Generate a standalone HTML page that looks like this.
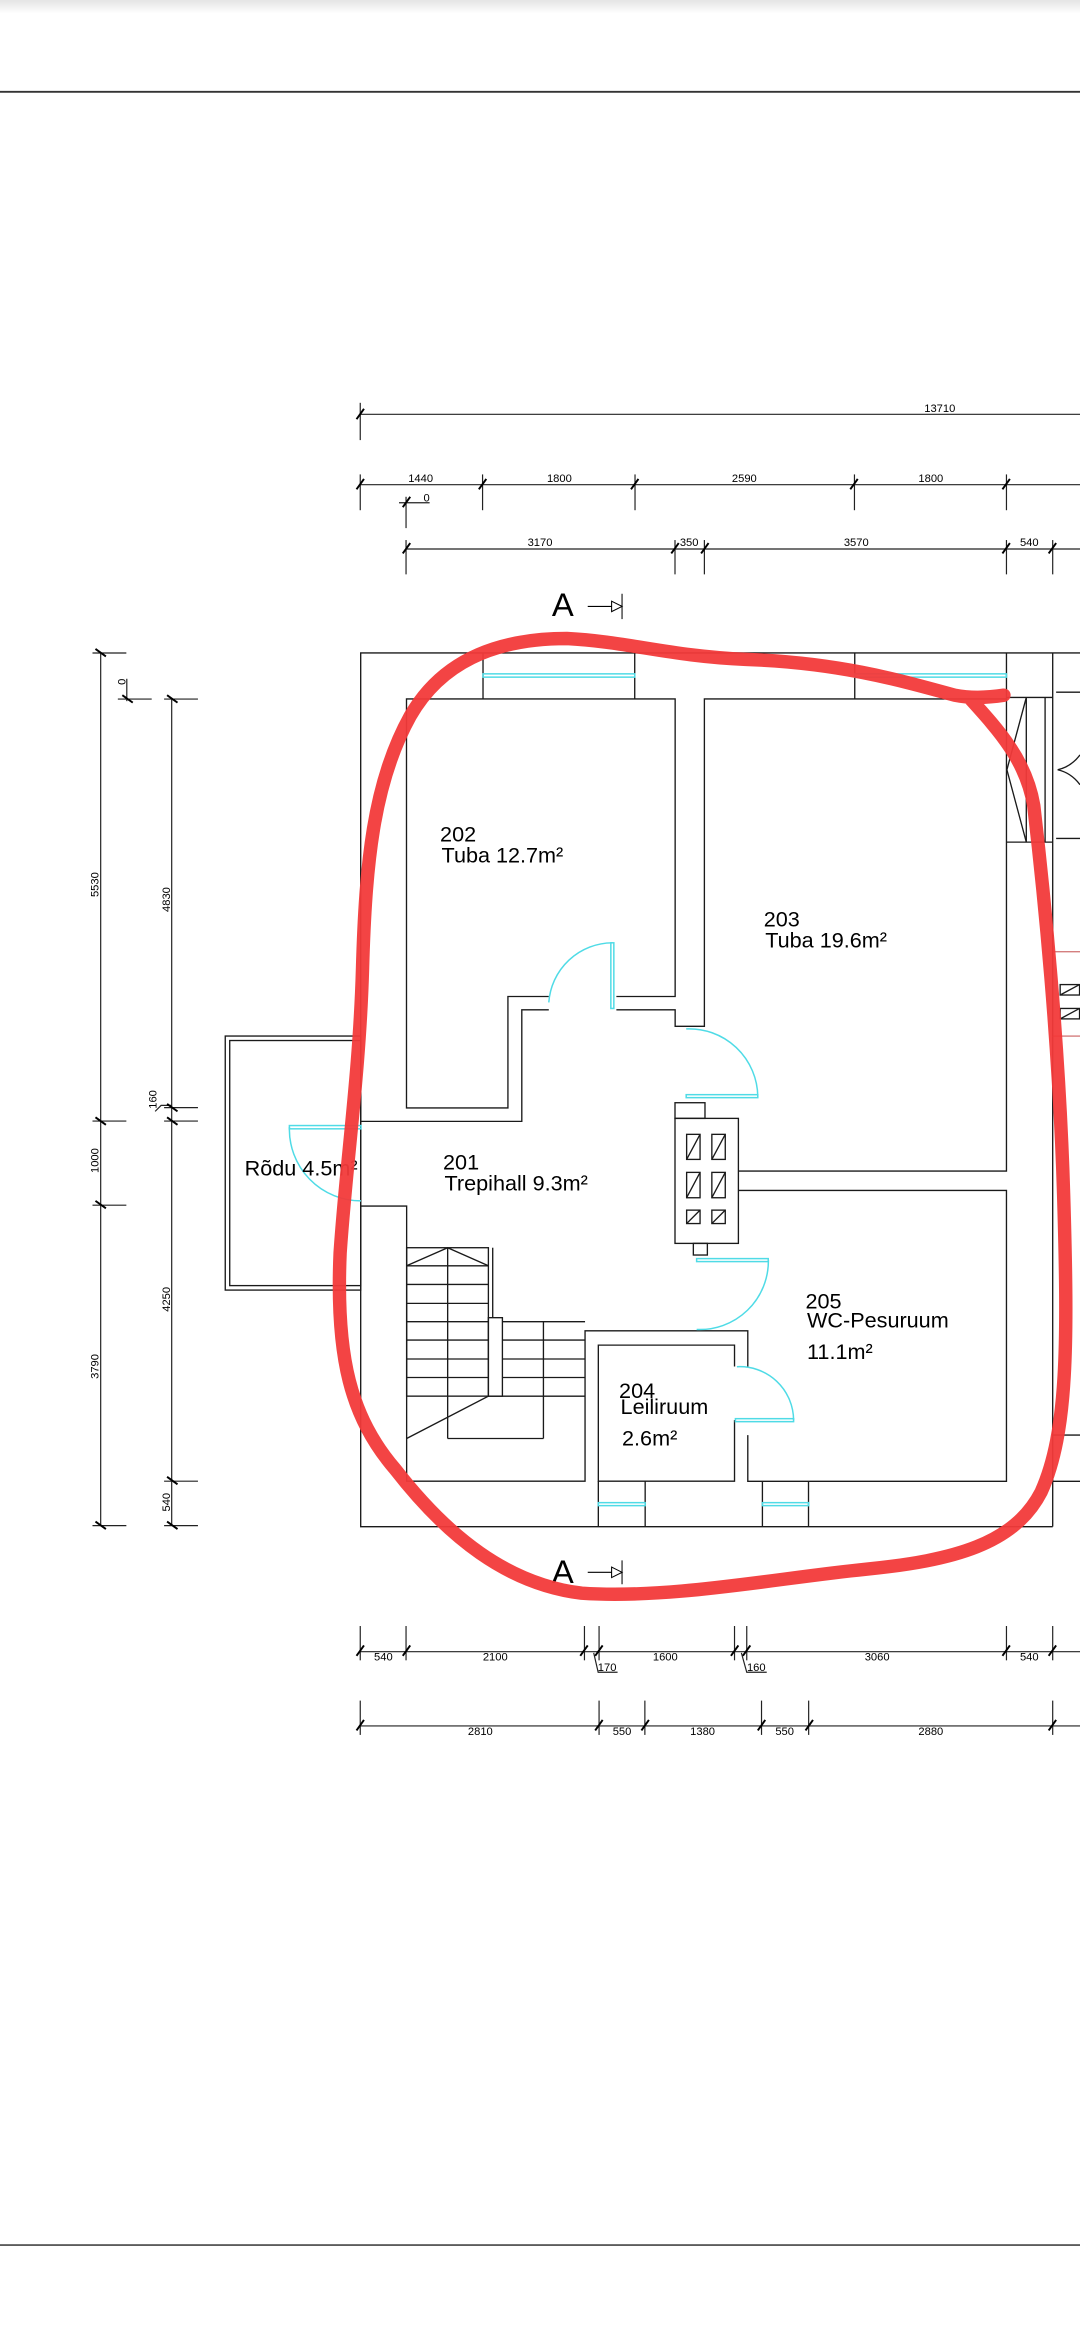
<!DOCTYPE html>
<html><head><meta charset="utf-8"><style>
html,body{margin:0;padding:0;background:#fff;width:1080px;height:2340px;overflow:hidden}
svg{display:block}
text{font-family:"Liberation Sans",Arial,sans-serif;fill:#000}
.d{font-size:7.5px;fill:#222}
.r{font-size:14.5px}
</style></head><body>
<svg width="1080" height="2340" viewBox="0 0 724 1568.6" xmlns="http://www.w3.org/2000/svg">
<defs><linearGradient id="g" x1="0" y1="0" x2="0" y2="1"><stop offset="0" stop-color="#e4e4e4"/><stop offset="1" stop-color="#fff"/></linearGradient></defs>
<rect x="0" y="0" width="724" height="9" fill="url(#g)"/>
<line x1="0" y1="61.5" x2="724" y2="61.5" stroke="#333" stroke-width="1.3"/>
<line x1="0" y1="1505" x2="724" y2="1505" stroke="#444" stroke-width="1.1"/>

<g stroke="#222" stroke-width="0.8" fill="none">
<line x1="241.5" y1="277.7" x2="724" y2="277.7"/><line x1="241.5" y1="270" x2="241.5" y2="295"/>
<line x1="241.5" y1="324.9" x2="724" y2="324.9"/>
<line x1="241.5" y1="318" x2="241.5" y2="342"/><line x1="323.5" y1="318" x2="323.5" y2="342"/><line x1="425.7" y1="318" x2="425.7" y2="342"/><line x1="572.8" y1="318" x2="572.8" y2="342"/><line x1="674.7" y1="318" x2="674.7" y2="342"/>
<line x1="267.5" y1="337" x2="288" y2="337"/><line x1="272.2" y1="333" x2="272.2" y2="354"/>
<line x1="272.2" y1="368" x2="724" y2="368"/>
<line x1="272.2" y1="362" x2="272.2" y2="385"/><line x1="452.5" y1="362" x2="452.5" y2="385"/><line x1="472.2" y1="362" x2="472.2" y2="385"/><line x1="674.7" y1="362" x2="674.7" y2="385"/><line x1="705.7" y1="362" x2="705.7" y2="385"/>
<line x1="241.5" y1="1107.2" x2="724" y2="1107.2"/>
<g><line x1="241.5" y1="1090" x2="241.5" y2="1113"/><line x1="272.2" y1="1090" x2="272.2" y2="1113"/><line x1="391.8" y1="1090" x2="391.8" y2="1113"/><line x1="401.6" y1="1090" x2="401.6" y2="1113"/><line x1="492.4" y1="1090" x2="492.4" y2="1113"/><line x1="500.6" y1="1090" x2="500.6" y2="1113"/><line x1="674.7" y1="1090" x2="674.7" y2="1113"/><line x1="705.7" y1="1090" x2="705.7" y2="1113"/></g>
<polyline points="398,1108 401,1121 414,1121"/><polyline points="497,1108 500.6,1121 514,1121"/>
<line x1="241.5" y1="1157" x2="724" y2="1157"/>
<g><line x1="241.5" y1="1140" x2="241.5" y2="1163"/><line x1="401.6" y1="1140" x2="401.6" y2="1163"/><line x1="432.3" y1="1140" x2="432.3" y2="1163"/><line x1="510.5" y1="1140" x2="510.5" y2="1163"/><line x1="542.1" y1="1140" x2="542.1" y2="1163"/><line x1="705.7" y1="1140" x2="705.7" y2="1163"/></g>
<line x1="67.5" y1="437.7" x2="67.5" y2="1022.7"/>
<line x1="62" y1="437.7" x2="84.7" y2="437.7"/><line x1="62" y1="751.5" x2="84.7" y2="751.5"/><line x1="62" y1="807.9" x2="84.7" y2="807.9"/><line x1="62" y1="1022.7" x2="84.7" y2="1022.7"/>
<line x1="115.1" y1="468.6" x2="115.1" y2="1022.7"/>
<line x1="110" y1="468.6" x2="132.7" y2="468.6"/><line x1="110" y1="742.5" x2="132.7" y2="742.5"/><line x1="110" y1="751.5" x2="132.7" y2="751.5"/><line x1="110" y1="992.9" x2="132.7" y2="992.9"/><line x1="110" y1="1022.7" x2="132.7" y2="1022.7"/>
<line x1="79" y1="468.6" x2="101.7" y2="468.6"/><line x1="85" y1="455" x2="85" y2="470"/>
<polyline points="104,745 108,741 115,741"/>
</g>
<g stroke="#000" stroke-width="1.3">
<path d="M239,281 l5,-7 M239,328 l5,-7 M321,328 l5,-7 M423,328 l5,-7 M570,328 l5,-7 M672,328 l5,-7 M270,340 l5,-7 M270,371 l5,-7 M450,371 l5,-7 M470,371 l5,-7 M672,371 l5,-7 M703,371 l5,-7"/>
<path d="M239,1110 l5,-7 M270,1110 l5,-7 M389,1110 l5,-7 M399,1110 l5,-7 M490,1110 l5,-7 M498,1110 l5,-7 M672,1110 l5,-7 M703,1110 l5,-7 M239,1160 l5,-7 M399,1160 l5,-7 M430,1160 l5,-7 M508,1160 l5,-7 M540,1160 l5,-7 M703,1160 l5,-7"/>
<path d="M64,435 l7,5 M64,749 l7,5 M64,805 l7,5 M64,1020 l7,5 M112,466 l7,5 M112,740 l7,5 M112,749 l7,5 M112,990 l7,5 M112,1020 l7,5 M82,466 l7,5"/>
</g>
<g class="d">
<text x="630" y="276" text-anchor="middle">13710</text>
<text x="282" y="323" text-anchor="middle">1440</text><text x="375" y="323" text-anchor="middle">1800</text><text x="499" y="323" text-anchor="middle">2590</text><text x="624" y="323" text-anchor="middle">1800</text>
<text x="286" y="336" text-anchor="middle">0</text>
<text x="362" y="366" text-anchor="middle">3170</text><text x="462" y="366" text-anchor="middle">350</text><text x="574" y="366" text-anchor="middle">3570</text><text x="690" y="366" text-anchor="middle">540</text>
<text x="257" y="1113" text-anchor="middle">540</text><text x="332" y="1113" text-anchor="middle">2100</text><text x="446" y="1113" text-anchor="middle">1600</text><text x="588" y="1113" text-anchor="middle">3060</text><text x="690" y="1113" text-anchor="middle">540</text>
<text x="407" y="1120" text-anchor="middle">170</text><text x="507" y="1120" text-anchor="middle">160</text>
<text x="322" y="1163" text-anchor="middle">2810</text><text x="417" y="1163" text-anchor="middle">550</text><text x="471" y="1163" text-anchor="middle">1380</text><text x="526" y="1163" text-anchor="middle">550</text><text x="624" y="1163" text-anchor="middle">2880</text>
<text transform="translate(66,593) rotate(-90)" text-anchor="middle">5530</text>
<text transform="translate(66,778) rotate(-90)" text-anchor="middle">1000</text>
<text transform="translate(66,916) rotate(-90)" text-anchor="middle">3790</text>
<text transform="translate(114,603) rotate(-90)" text-anchor="middle">4830</text>
<text transform="translate(114,871) rotate(-90)" text-anchor="middle">4250</text>
<text transform="translate(114,1007) rotate(-90)" text-anchor="middle">540</text>
<text transform="translate(105,737) rotate(-90)" text-anchor="middle">160</text>
<text transform="translate(84,457) rotate(-90)" text-anchor="middle">0</text>
</g>
<text x="370" y="413" font-size="22">A</text>
<text x="370" y="1061" font-size="22">A</text>
<g stroke="#000" stroke-width="0.7" fill="#fff">
<line x1="394" y1="406.5" x2="410" y2="406.5"/><polygon points="410,403 417,406.5 410,410"/><line x1="417" y1="398" x2="417" y2="415"/>
<line x1="394" y1="1054" x2="410" y2="1054"/><polygon points="410,1050.5 417,1054 410,1057.5"/><line x1="417" y1="1046" x2="417" y2="1062"/>
</g>

<g stroke="#1a1a1a" stroke-width="0.9" fill="none">
<polyline points="241.8,808.5 241.8,1023.4 705.7,1023.4"/>
<polyline points="241.8,751.5 241.8,437.7 724,437.7"/>
<line x1="705.7" y1="437.7" x2="705.7" y2="1023.4"/>
<line x1="323.8" y1="437.7" x2="323.8" y2="468.5"/><line x1="425.5" y1="437.7" x2="425.5" y2="468.5"/>
<line x1="573" y1="437.7" x2="573" y2="468.5"/><line x1="674.7" y1="437.7" x2="674.7" y2="468.5"/>
<polyline points="367.9,668 340.5,668 340.5,742.7 272.5,742.7 272.5,468.5 452.6,468.5 452.6,668 413.2,668"/>
<polyline points="367.9,676.9 349.8,676.9 349.8,751.7 241.8,751.7"/>
<polyline points="413.2,676.9 452.6,676.9 452.6,688 472.2,688 472.2,468.5 674.7,468.5 674.7,785 495,785"/>
<polyline points="495,798 674.7,798 674.7,993 501.3,993 501.3,962"/>
<polyline points="241.8,808.5 272.6,808.5 272.6,992.9 392.2,992.9 392.2,892.1 501.3,892.1 501.3,916"/>
<polyline points="492.4,916 492.4,901.7 401.1,901.7 401.1,992.9 492.4,992.9 492.4,952"/>
<line x1="401.1" y1="992.9" x2="401.1" y2="1023.4"/><line x1="432.5" y1="992.9" x2="432.5" y2="1023.4"/>
<line x1="511.1" y1="992.9" x2="511.1" y2="1023.4"/><line x1="542" y1="992.9" x2="542" y2="1023.4"/>
<rect x="452.5" y="749.7" width="42.5" height="83.8"/>
<rect x="452.5" y="739.2" width="20.1" height="10.5"/>
<rect x="464.8" y="833.5" width="9.4" height="7.8"/>
<rect x="460.3" y="760.4" width="9" height="16.8"/><rect x="477.2" y="760.4" width="9" height="16.8"/>
<rect x="460.3" y="785.9" width="9" height="17"/><rect x="477.2" y="785.9" width="9" height="17"/>
<rect x="460.3" y="811.2" width="9" height="9"/><rect x="477.2" y="811.2" width="9" height="9"/>
<path d="M460.3,777.2 L469.3,760.4 M477.2,777.2 L486.2,760.4 M460.3,802.9 L469.3,785.9 M477.2,802.9 L486.2,785.9 M460.3,820.2 L469.3,811.2 M477.2,820.2 L486.2,811.2"/>
<rect x="272.6" y="836.4" width="54.8" height="99.5"/>
<path d="M272.6,848.5 H327.4 M272.6,861 H327.4 M272.6,873.7 H327.4 M272.6,886 H327.4 M272.6,898.3 H327.4 M272.6,911 H327.4 M272.6,923.4 H327.4"/>
<line x1="300.1" y1="836.4" x2="300.1" y2="964.3"/>
<polyline points="272.6,848.5 300.1,836.4 327.4,848.5"/>
<line x1="272.6" y1="964.3" x2="327.4" y2="935.9"/>
<rect x="327.4" y="883.3" width="9.4" height="52.6"/>
<line x1="330.3" y1="836.4" x2="330.3" y2="883.3"/>
<path d="M336.8,886 H392.2 M336.8,898.3 H392.2 M336.8,911 H392.2 M336.8,923.4 H392.2 M327.4,935.9 H392.2"/>
<line x1="364.3" y1="886" x2="364.3" y2="964.3"/><line x1="300.1" y1="964.3" x2="364.3" y2="964.3"/>
<line x1="674.7" y1="467.5" x2="705.7" y2="467.5"/><line x1="674.7" y1="564.5" x2="705.7" y2="564.5"/>
<line x1="688" y1="467.5" x2="688" y2="564.5"/>
<path d="M688,467.5 L675,516 L688,564.5"/>
<line x1="700.6" y1="467.5" x2="700.6" y2="564.5"/>
<path d="M708,464 H724 M708,562 H724 M709,516 Q718,514 724,506 M709,516 Q718,518 724,526"/>
<line x1="705.7" y1="962" x2="724" y2="962"/><line x1="705.7" y1="993" x2="724" y2="993"/>
<rect x="710.7" y="660" width="13" height="7"/><rect x="710.7" y="676" width="13" height="7"/>
<path d="M710.7,667 L723.7,660 M710.7,683 L723.7,676"/>
</g>
<g stroke="#b33" stroke-width="0.6"><line x1="705.7" y1="638" x2="724" y2="638"/><line x1="705.7" y1="694.5" x2="724" y2="694.5"/></g>
<g stroke="#1a1a1a" stroke-width="0.9" fill="none">
<rect x="151" y="694.5" width="90.8" height="170.3"/>
<rect x="154" y="697.5" width="87.8" height="164.3"/>
</g>
<g stroke="#4fdbe6" stroke-width="1" fill="none">
<rect x="323.8" y="451.7" width="101.7" height="2.2"/>
<rect x="573" y="451.7" width="101.7" height="2.2"/>
<rect x="401.1" y="1007.3" width="31.4" height="2"/>
<rect x="511.1" y="1007.3" width="31" height="2"/>
<rect x="409.5" y="632" width="2" height="44"/>
<path d="M410.5,632 A43,43 0 0 0 367.9,672"/>
<rect x="460" y="733.8" width="48" height="2"/>
<path d="M508,735 A46,46 0 0 0 460,689.7"/>
<rect x="467" y="843.7" width="48" height="2"/>
<path d="M515.1,844.7 A46,46 0 0 1 467,891.2"/>
<rect x="493" y="951" width="39" height="2"/>
<path d="M532,952 A36,36 0 0 0 494,916.2"/>
<rect x="194" y="754.5" width="48" height="2.2"/>
<path d="M194,755.5 A48,48 0 0 0 242,805"/>
</g>
<g class="r">
<text x="295" y="564">202</text><text x="296" y="578">Tuba 12.7m²</text>
<text x="512" y="621">203</text><text x="513" y="635">Tuba 19.6m²</text>
<text x="297" y="784">201</text><text x="298" y="798">Trepihall 9.3m²</text>
<text x="164" y="788">Rõdu 4.5m²</text>
<text x="415" y="937">204</text><text x="416" y="948">Leiliruum</text><text x="417" y="969">2.6m²</text>
<text x="540" y="877">205</text><text x="541" y="890">WC-Pesuruum</text><text x="541" y="911">11.1m²</text>
</g>
<path d="M673,466 C660,468 650,468 640,466 C600,455 560,444 500,442 C450,440 420,430 380,428 C330,428 295,445 275,480 C250,525 245,580 243,650 C241,720 232,780 228,840 C225,910 235,950 265,985 C300,1030 340,1062 390,1068 C450,1072 520,1058 580,1052 C640,1046 680,1035 698,1000 C716,960 716,900 713,800 C710,700 700,600 693,540 C688,510 670,490 650,468" fill="none" stroke="#f23a3a" stroke-width="9" stroke-linecap="round" stroke-linejoin="round" opacity="0.95"/>
</svg>
</body></html>
